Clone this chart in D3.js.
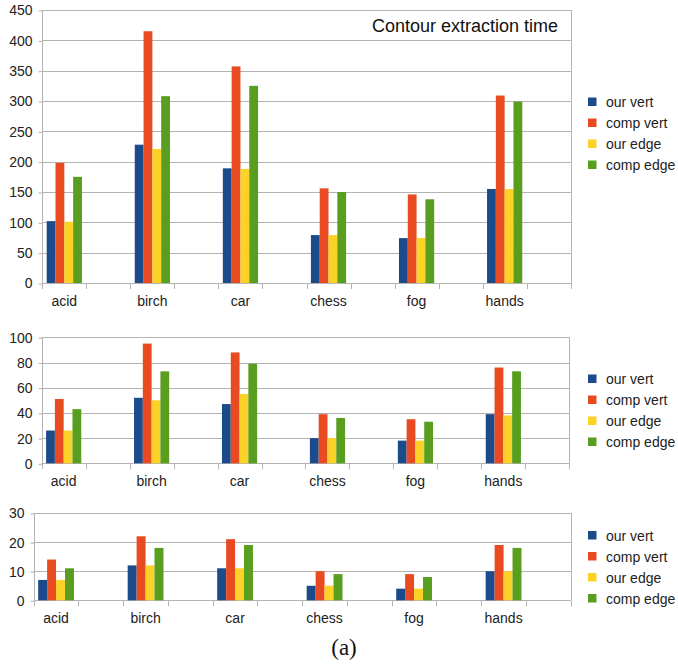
<!DOCTYPE html>
<html>
<head>
<meta charset="utf-8">
<script src="https://cdn.jsdelivr.net/npm/d3@7"></script>
<style>
  html, body { margin: 0; padding: 0; background: #fff; }
  svg { display: block; font-family: "Liberation Sans", Arial, sans-serif; }
</style>
</head>
<body>
<svg id="chart" width="678" height="667"></svg>
<script>
// Image set names (one group of bars per image)
const categories = ["acid", "birch", "car", "chess", "fog", "hands"];
const seriesNames = ["our vert", "comp vert", "our edge", "comp edge"];
const seriesColors = ["#1c4b8c", "#e84a22", "#fdd227", "#599e1e"];

// Panel 1: contour extraction time
const extractOurVert  = [102, 228, 189, 79, 74, 155];
const extractCompVert = [198, 415, 357, 156, 146, 309];
const extractOurEdge  = [101, 221, 188, 79, 74, 155];
const extractCompEdge = [175, 308, 325, 150, 138, 299];
const extractTicks = [0, 50, 100, 150, 200, 250, 300, 350, 400, 450];

// Panel 2
const midOurVert  = [26, 52, 47, 20, 18, 39];
const midCompVert = [51, 95, 88, 39, 35, 76];
const midOurEdge  = [26, 50, 55, 20, 18, 38];
const midCompEdge = [43, 73, 79, 36, 33, 73];
const midTicks = [0, 20, 40, 60, 80, 100];

// Panel 3
const lowOurVert  = [7, 12, 11, 5, 4, 10];
const lowCompVert = [14, 22, 21, 10, 9, 19];
const lowOurEdge  = [7, 12, 11, 5, 4, 10];
const lowCompEdge = [11, 18, 19, 9, 8, 18];
const lowTicks = [0, 10, 20, 30];

const panels = [
  { series: [extractOurVert, extractCompVert, extractOurEdge, extractCompEdge], ticks: extractTicks,
    title: "Contour extraction time",
    box: { left: 42.3, right: 570.7, top: 10, bottom: 283 }, legendTop: 102 },
  { series: [midOurVert, midCompVert, midOurEdge, midCompEdge], ticks: midTicks,
    box: { left: 41.7, right: 569.3, top: 337.3, bottom: 463.3 }, legendTop: 379 },
  { series: [lowOurVert, lowCompVert, lowOurEdge, lowCompEdge], ticks: lowTicks,
    box: { left: 33.7, right: 570.7, top: 513, bottom: 600.3 }, legendTop: 535.5 }
];

const svg = d3.select("#chart");
const gridColor = "#b3b3b3";
const textColor = "#222";

// Each category occupies a slot followed by an empty slot
const slots = categories.flatMap(c => [c, c + "\u0000gap"]);

panels.forEach(p => {
  const b = p.box;
  const g = svg.append("g");

  const x0 = d3.scaleBand().domain(slots).range([b.left, b.right]).padding(0);
  const x1 = d3.scaleBand().domain(d3.range(seriesNames.length))
    .range([0, x0.bandwidth()]).paddingInner(0).paddingOuter(0.5);
  const yMax = p.ticks[p.ticks.length - 1];
  const y = d3.scaleLinear().domain([0, yMax]).range([b.bottom, b.top]);

  // horizontal gridlines
  g.append("g").selectAll("line").data(p.ticks).join("line")
    .attr("x1", b.left).attr("x2", b.right)
    .attr("y1", d => Math.round(y(d)) + 0.5).attr("y2", d => Math.round(y(d)) + 0.5)
    .attr("stroke", gridColor).attr("stroke-width", 1);

  // frame: left and right edges
  [b.left, b.right].forEach(xv => {
    g.append("line")
      .attr("x1", Math.round(xv) + 0.5).attr("x2", Math.round(xv) + 0.5)
      .attr("y1", y(yMax)).attr("y2", b.bottom)
      .attr("stroke", gridColor);
  });

  // y axis ticks and labels
  const yAxis = d3.axisLeft(y).tickValues(p.ticks).tickSize(4).tickPadding(6).tickFormat(d3.format("d"));
  const ya = g.append("g").attr("transform", `translate(${Math.round(b.left) + 0.5},0.5)`).call(yAxis);
  ya.select(".domain").remove();
  ya.selectAll(".tick line").attr("stroke", gridColor);
  ya.selectAll(".tick text").attr("fill", textColor).style("font-size", "14px")
    .style("font-family", "'Liberation Sans', Arial, sans-serif");

  // x axis: tick marks at every slot boundary
  const bounds = slots.map(s => x0(s)).concat([b.right]);
  g.append("g").selectAll("line").data(bounds).join("line")
    .attr("x1", d => Math.round(d) + 0.5).attr("x2", d => Math.round(d) + 0.5)
    .attr("y1", b.bottom).attr("y2", b.bottom + 6)
    .attr("stroke", gridColor);

  // category labels
  g.append("g").selectAll("text").data(categories).join("text")
    .attr("x", d => x0(d) + x0.bandwidth() / 2)
    .attr("y", b.bottom + 23)
    .attr("text-anchor", "middle")
    .attr("fill", textColor)
    .style("font-size", "14px")
    .text(d => d);

  // bars
  const barData = [];
  categories.forEach((c, ci) => {
    p.series.forEach((vals, si) => barData.push({ c, si, v: vals[ci] }));
  });
  g.append("g").selectAll("rect").data(barData).join("rect")
    .attr("x", d => x0(d.c) + x1(d.si))
    .attr("width", x1.bandwidth())
    .attr("y", d => y(d.v))
    .attr("height", d => y(0) - y(d.v))
    .attr("fill", d => seriesColors[d.si]);

  // title
  if (p.title) {
    g.append("text")
      .attr("x", 558).attr("y", 31.5)
      .attr("text-anchor", "end")
      .attr("fill", "#111")
      .style("font-size", "18px")
      .text(p.title);
  }

  // legend
  const lg = g.append("g").attr("transform", `translate(588,${p.legendTop})`);
  const items = lg.selectAll("g").data(seriesNames).join("g")
    .attr("transform", (d, i) => `translate(0,${i * 21})`);
  items.append("rect").attr("x", 0).attr("y", -4.5).attr("width", 8.5).attr("height", 8.5)
    .attr("fill", (d, i) => seriesColors[i]);
  items.append("text").attr("x", 18).attr("y", 5)
    .attr("fill", textColor).style("font-size", "14px").text(d => d);
});

// sub-figure label
svg.append("text")
  .attr("x", 344).attr("y", 655)
  .attr("text-anchor", "middle")
  .attr("fill", "#111")
  .style("font-family", "'Liberation Serif', 'DejaVu Serif', serif")
  .style("font-size", "23px")
  .text("(a)");
</script>
</body>
</html>
